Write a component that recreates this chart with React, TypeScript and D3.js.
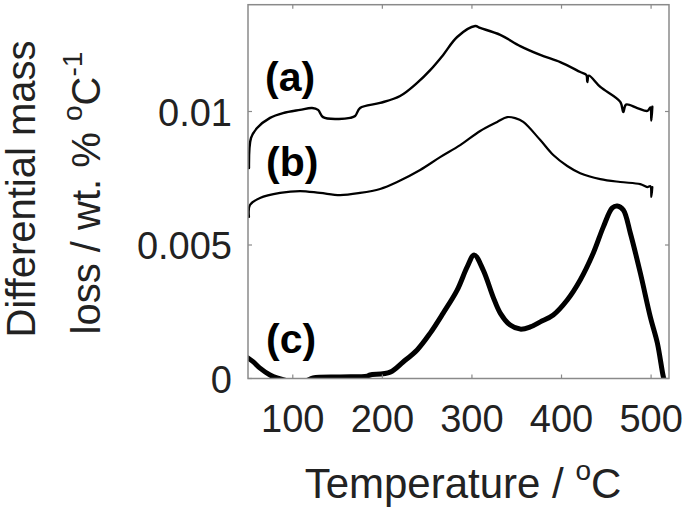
import React from "react";
import * as d3 from "d3";

// ---- data (temperature °C, differential mass loss wt.% / °C) ----
const tempA = [51.1, 53.4, 60.1, 74.6, 89.1, 108.1, 121.5, 128.2, 133.8, 149.4, 164, 169.6, 175.1, 197.5, 219.8, 238.8, 253.4, 267.9, 283.5, 303.6, 309.2, 331.6, 353.9, 376.3, 398.6, 421, 427.7, 428.8, 430.5, 443.3, 465.6, 469, 472, 484.6, 495.8, 499.2, 500.3, 501.4];
const valA = [0.00788, 0.00901, 0.00938, 0.00976, 0.00994, 0.01006, 0.01013, 0.01006, 0.00979, 0.00972, 0.00976, 0.00983, 0.01013, 0.01032, 0.01058, 0.01107, 0.01155, 0.01212, 0.01279, 0.0132, 0.01313, 0.01287, 0.01245, 0.01212, 0.01185, 0.01148, 0.01137, 0.0111, 0.01134, 0.01092, 0.01036, 0.00998, 0.01026, 0.01013, 0.01002, 0.01015, 0.00966, 0.01018];

const tempB = [51.1, 52.2, 63.4, 85.8, 108.1, 130.4, 152.8, 175.1, 197.5, 216.5, 242.2, 264.5, 286.9, 309.2, 328.2, 339.4, 348.3, 357.3, 376.3, 390.8, 406.4, 420.9, 443.3, 465.6, 487.9, 495.8, 499.2, 500.3, 501.4];
const valB = [0.00605, 0.0065, 0.00676, 0.00695, 0.00702, 0.00695, 0.00687, 0.00695, 0.0071, 0.00736, 0.00781, 0.00829, 0.00874, 0.00927, 0.00961, 0.00979, 0.00975, 0.00961, 0.00893, 0.00837, 0.00796, 0.00769, 0.00747, 0.00736, 0.00728, 0.00717, 0.0072, 0.0068, 0.00717];

const tempC = [50, 56, 63.4, 74.6, 82.4, 97, 113.7, 122.6, 152.8, 183, 186.3, 208.7, 223.2, 238.8, 253.4, 267.9, 283.5, 294.7, 302.5, 312.6, 323.7, 331.6, 342.7, 353.9, 365.1, 376.3, 390.8, 406.4, 420.9, 435.5, 446.6, 456.7, 462.3, 469, 476.8, 488, 499.2, 507, 513.7, 516];
const valC = [0.00077, 0.00062, 0.00039, 0.00013, 0.00002, -0.0001, -0.0001, 0.00002, 0.00006, 0.00009, 0.00013, 0.00024, 0.00062, 0.00107, 0.0017, 0.00245, 0.00331, 0.00418, 0.00463, 0.00406, 0.00305, 0.00245, 0.002, 0.00185, 0.00193, 0.00212, 0.00238, 0.00294, 0.00369, 0.0047, 0.00567, 0.00639, 0.00646, 0.00631, 0.00545, 0.00395, 0.0023, 0.00133, 0.00006, -0.0002];

const xTicks = [100, 200, 300, 400, 500];
const yTicks = [0, 0.005, 0.01];
const yTickLabels = ["0", "0.005", "0.01"];
const xDomain = [50, 520];
const yDomain = [0, 0.014];

const seriesLabels = ["(a)", "(b)", "(c)"];

export default function App() {
  const left = 248, right = 669, top = 4.7, bottom = 378.5;
  const x = d3.scaleLinear().domain(xDomain).range([left, right]);
  const y = d3.scaleLinear().domain(yDomain).range([bottom, top]);
  const mk = (ts: number[], vs: number[]) =>
    d3
      .line<number>()
      .curve(d3.curveCatmullRom.alpha(0.5))
      .x((_, i) => x(ts[i]))
      .y((_, i) => y(vs[i]))(ts) || "";

  const axisColor = "#8a8a8a";
  const textColor = "#222";
  const font = "'Liberation Sans', Arial, sans-serif";
  const tick = 4;

  return (
    <svg width={685} height={512} style={{ position: "absolute", left: 0, top: 0, background: "#fff" }} fontFamily={font}>
      <defs>
        <clipPath id="plot">
          <rect x={left} y={top} width={right - left} height={bottom - top} />
        </clipPath>
      </defs>
      <rect x={0} y={0} width={685} height={512} fill="#fff" />
      {/* curves */}
      <g clipPath="url(#plot)" fill="none" stroke="#000" strokeLinejoin="round" strokeLinecap="round">
        <path d={mk(tempA, valA)} strokeWidth={2.4} />
        <path d={mk(tempB, valB)} strokeWidth={2.2} />
        <path d={mk(tempC, valC)} strokeWidth={5} />
      </g>
      {/* frame */}
      <rect x={left} y={top} width={right - left} height={bottom - top} fill="none" stroke={axisColor} strokeWidth={1.5} />
      {xTicks.map((t) => (
        <g key={"x" + t} stroke={axisColor} strokeWidth={1.2}>
          <line x1={x(t)} x2={x(t)} y1={bottom} y2={bottom - tick} />
          <line x1={x(t)} x2={x(t)} y1={top} y2={top + tick} />
        </g>
      ))}
      {yTicks.map((t) => (
        <g key={"y" + t} stroke={axisColor} strokeWidth={1.2}>
          <line x1={left} x2={left + tick} y1={y(t)} y2={y(t)} />
          <line x1={right} x2={right - tick} y1={y(t)} y2={y(t)} />
        </g>
      ))}
      {/* tick labels */}
      {xTicks.map((t) => (
        <text key={"xl" + t} x={x(t)} y={432} textAnchor="middle" fontSize={38} fill={textColor}>
          {t}
        </text>
      ))}
      {yTicks.map((t, i) => (
        <text key={"yl" + t} x={232} y={y(t) + 14} textAnchor="end" fontSize={38} fill={textColor}>
          {yTickLabels[i]}
        </text>
      ))}
      {/* axis labels */}
      <text x={463} y={498} textAnchor="middle" fontSize={42} fill={textColor}>
        Temperature /{" "}
        <tspan fontSize={28} dy={-18}>o</tspan>
        <tspan dy={18}>C</tspan>
      </text>
      <g transform="translate(35,189) rotate(-90)">
        <text x={0} y={0} textAnchor="middle" fontSize={40} fill={textColor}>
          Differential mass
        </text>
      </g>
      <g transform="translate(100,193) rotate(-90)">
        <text x={0} y={0} textAnchor="middle" fontSize={40} fill={textColor}>
          loss / wt. %{" "}
          <tspan fontSize={28} dy={-18}>o</tspan>
          <tspan dy={18}>C</tspan>
          <tspan fontSize={28} dy={-18}>-1</tspan>
        </text>
      </g>
      {/* series labels */}
      <text x={265} y={91} fontSize={41} fontWeight="bold" fill="#000">{seriesLabels[0]}</text>
      <text x={266} y={176} fontSize={41} fontWeight="bold" fill="#000">{seriesLabels[1]}</text>
      <text x={266} y={353} fontSize={41} fontWeight="bold" fill="#000">{seriesLabels[2]}</text>
    </svg>
  );
}
